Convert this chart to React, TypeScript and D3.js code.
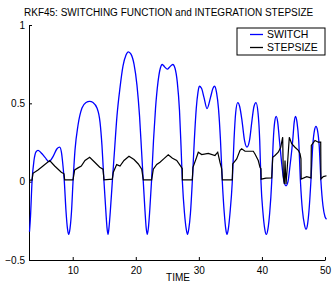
import React, { useEffect, useRef } from "react";
import * as d3 from "d3";

// SWITCH (blue)
const switchTime = [
  3.15, 3.31, 3.55, 3.86, 4.18, 4.5, 4.97, 5.61, 6.24, 6.88, 7.51, 7.94, 8.22, 8.46, 8.67, 8.94, 9.17, 9.36, 9.57, 9.81,
  10.05, 10.36, 10.84, 11.47, 12.11, 12.69, 13.22, 13.85, 14.33, 14.64, 14.96, 15.28, 15.44, 15.6, 15.75, 15.96,
  16.28, 16.63, 17.02, 17.5, 17.97, 18.45, 18.81, 19.24, 19.72, 20.19, 20.59, 20.91, 21.19, 21.46, 21.65, 21.83, 22.0, 22.21,
  22.49, 22.81, 23.13, 23.52, 23.89, 24.2, 24.55, 25.0, 25.42, 25.87, 26.22, 26.58, 26.93, 27.17, 27.39, 27.72, 27.99, 28.2, 28.41, 28.67,
  28.96, 29.28, 29.59, 29.86, 30.07, 30.42, 30.81, 31.29, 31.85, 32.24, 32.51, 32.8, 33.11, 33.43, 33.72, 34.03, 34.26, 34.46, 34.68, 34.94,
  35.3, 35.57, 35.84, 36.16, 36.47, 36.84, 37.24, 37.63, 38.03, 38.42, 38.74, 39.06, 39.38, 39.65, 39.85, 40.17, 40.44, 40.69, 40.96, 41.23,
  41.55, 41.8, 42.02, 42.26, 42.5, 42.78, 43.18, 43.5, 43.82, 44.13, 44.45, 44.88, 45.12, 45.32, 45.56, 45.83, 46.11, 46.43, 46.75, 46.99, 47.22, 47.46,
  47.76, 48.06, 48.33, 48.57, 48.81, 49.08, 49.36, 49.68, 50.0, 50.24,
];
const switchValue = [
  -0.32, -0.22, 0.0, 0.135, 0.19, 0.2, 0.185, 0.155, 0.128, 0.16, 0.21, 0.22, 0.185, 0.1, 0.0, -0.19, -0.3, -0.337, -0.3, -0.19,
  0.0, 0.2, 0.36, 0.47, 0.505, 0.513, 0.505, 0.47, 0.38, 0.23, 0.0, -0.205, -0.295, -0.337, -0.295, -0.19,
  0.0, 0.2, 0.42, 0.6, 0.737, 0.808, 0.829, 0.814, 0.75, 0.615, 0.423, 0.2, 0.0, -0.186, -0.295, -0.337, -0.295, -0.186,
  0.0, 0.263, 0.468, 0.635, 0.724, 0.748, 0.734, 0.718, 0.734, 0.748, 0.724, 0.635, 0.455, 0.23, 0.0, -0.2, -0.3, -0.337, -0.3, -0.2,
  0.0, 0.263, 0.468, 0.57, 0.609, 0.596, 0.538, 0.466, 0.538, 0.596, 0.609, 0.57, 0.468, 0.263, 0.0, -0.2, -0.3, -0.337, -0.3, -0.2,
  0.0, 0.263, 0.44, 0.504, 0.48, 0.39, 0.263, 0.22, 0.263, 0.39, 0.48, 0.504, 0.44, 0.263, 0.0, -0.2, -0.3, -0.337, -0.3, -0.2,
  0.0, 0.263, 0.38, 0.417, 0.38, 0.263, 0.1, 0.0, -0.026, 0.0, 0.1, 0.263, 0.38, 0.417, 0.38, 0.263, 0.0, -0.186, -0.276, -0.304, -0.276, -0.186,
  0.0, 0.23, 0.327, 0.353, 0.327, 0.23, 0.0, -0.154, -0.224, -0.24,
];

// STEPSIZE (black)
const stepTime = [
  3.07, 3.55, 3.7, 4.5, 5.29, 6.35, 7.14, 8.19, 8.62, 8.73, 10.05, 10.31, 10.84, 11.36, 11.95, 12.69, 13.49, 14.28, 14.8, 14.96,
  16.28, 16.44, 16.97, 17.5, 18.13, 18.92, 19.72, 20.4, 20.94, 21.19, 22.52, 22.78, 23.32, 23.84, 24.47, 25.15, 25.82, 26.49, 27.17, 27.37, 27.39,
  28.96, 29.07, 29.63, 29.91, 30.45, 31.5, 32.56, 32.99, 33.35, 33.62, 33.72, 35.3, 35.37, 36.0, 36.53, 36.79, 37.32, 38.63, 38.9, 39.42, 39.69, 39.85, 39.88,
  40.64, 41.55, 41.71, 42.07, 42.59, 42.98, 43.29, 43.39, 43.55, 43.66, 43.82, 44.02, 44.34, 44.72, 45.24, 45.77, 46.04, 46.19, 46.22,
  47.1, 47.78, 47.83, 48.41, 48.94, 49.32, 49.36, 49.73, 50.24,
];
const stepValue = [
  0.01, 0.01, 0.053, 0.075, 0.1, 0.135, 0.1, 0.06, 0.05, 0.011, 0.011, 0.075, 0.088, 0.1, 0.135, 0.156, 0.124, 0.092, 0.08, 0.011,
  0.016, 0.06, 0.109, 0.1, 0.135, 0.162, 0.141, 0.113, 0.08, 0.011, 0.011, 0.08, 0.11, 0.124, 0.147, 0.171, 0.15, 0.135, 0.096, 0.083, 0.011,
  0.011, 0.092, 0.154, 0.188, 0.173, 0.181, 0.167, 0.188, 0.124, 0.081, 0.011, 0.011, 0.113, 0.145, 0.2, 0.21, 0.194, 0.194, 0.177, 0.135, 0.092, 0.083, 0.016,
  0.022, 0.024, 0.156, 0.167, 0.188, 0.22, 0.284, 0.038, -0.015, 0.135, -0.015, 0.092, 0.284, 0.242, 0.22, 0.2, 0.178, 0.146, 0.017,
  0.032, 0.024, 0.231, 0.263, 0.252, 0.252, 0.017, 0.032, 0.038,
];

const xTicks = [10, 20, 30, 40, 50];
const yTicks = [-0.5, 0, 0.5, 1];
const seriesNames = ["SWITCH", "STEPSIZE"];
const seriesColors = ["#0000ff", "#000000"];
const title = "RKF45: SWITCHING FUNCTION and INTEGRATION STEPSIZE";
const xLabel = "TIME";

const width = 334;
const height = 282;
const marginLeft = 29;
const marginRight = 9;
const marginTop = 25;
const marginBottom = 22;

const App = () => {
  const svgRef = useRef<SVGSVGElement | null>(null);

  useEffect(() => {
    const svg = d3.select(svgRef.current);
    svg.selectAll("*").remove();

    const x = d3.scaleLinear().domain([3.07, 50]).range([marginLeft, width - marginRight]);
    const y = d3.scaleLinear().domain([-0.5, 1]).range([height - marginBottom, marginTop]);

    const font = "'Liberation Sans', Arial, Helvetica, sans-serif";

    // title
    svg
      .append("text")
      .attr("x", 24)
      .attr("y", 16)
      .attr("text-anchor", "start")
      .style("font-family", font)
      .style("font-size", "10px")
      .text(title);

    // y axis
    const yAxis = svg
      .append("g")
      .attr("transform", `translate(${marginLeft},0)`)
      .call(
        d3
          .axisLeft(y)
          .tickValues(yTicks)
          .tickSizeInner(-3)
          .tickSizeOuter(0)
          .tickPadding(4)
          .tickFormat((d) => d3.format("")(d as number).replace("-", "\u2212"))
      );
    yAxis.select(".domain").attr("stroke", "#000");
    yAxis.selectAll("text").style("font-family", font).style("font-size", "10px").attr("fill", "#000");

    // x axis
    const xAxis = svg
      .append("g")
      .attr("transform", `translate(0,${height - marginBottom})`)
      .call(d3.axisBottom(x).tickValues(xTicks).tickSizeInner(-3).tickSizeOuter(0).tickPadding(7));
    xAxis.selectAll("text").style("font-family", font).style("font-size", "10px").attr("fill", "#000");

    svg
      .append("text")
      .attr("x", 178)
      .attr("y", 281)
      .attr("text-anchor", "middle")
      .style("font-family", font)
      .style("font-size", "10px")
      .text(xLabel);

    const switchData = switchTime.map((t, i) => [t, switchValue[i]] as [number, number]);
    const stepData = stepTime.map((t, i) => [t, stepValue[i]] as [number, number]);

    const smooth = d3
      .line<[number, number]>()
      .x((d) => x(d[0]))
      .y((d) => y(d[1]))
      .curve(d3.curveMonotoneX);
    const straight = d3
      .line<[number, number]>()
      .x((d) => x(d[0]))
      .y((d) => y(d[1]));

    svg
      .append("path")
      .datum(switchData)
      .attr("fill", "none")
      .attr("stroke", seriesColors[0])
      .attr("stroke-width", 1.3)
      .attr("d", smooth);

    svg
      .append("path")
      .datum(stepData)
      .attr("fill", "none")
      .attr("stroke", seriesColors[1])
      .attr("stroke-width", 1.2)
      .attr("d", straight);

    // legend
    const legend = svg.append("g").attr("transform", "translate(237,28)");
    legend
      .append("rect")
      .attr("x", 0)
      .attr("y", 0)
      .attr("width", 88)
      .attr("height", 27)
      .attr("fill", "#fff")
      .attr("stroke", "#000")
      .attr("stroke-width", 1);
    seriesNames.forEach((name, i) => {
      legend
        .append("line")
        .attr("x1", 13)
        .attr("x2", 26)
        .attr("y1", 6.5 + i * 13)
        .attr("y2", 6.5 + i * 13)
        .attr("stroke", seriesColors[i])
        .attr("stroke-width", 1.3);
      legend
        .append("text")
        .attr("x", 30)
        .attr("y", 10.3 + i * 13)
        .style("font-family", font)
        .style("font-size", "10.5px")
        .text(name);
    });
  }, []);

  return (
    <svg
      ref={svgRef}
      width={width}
      height={height}
      style={{ position: "fixed", left: 0, top: 0, background: "#fff" }}
    ></svg>
  );
};

export default App;
